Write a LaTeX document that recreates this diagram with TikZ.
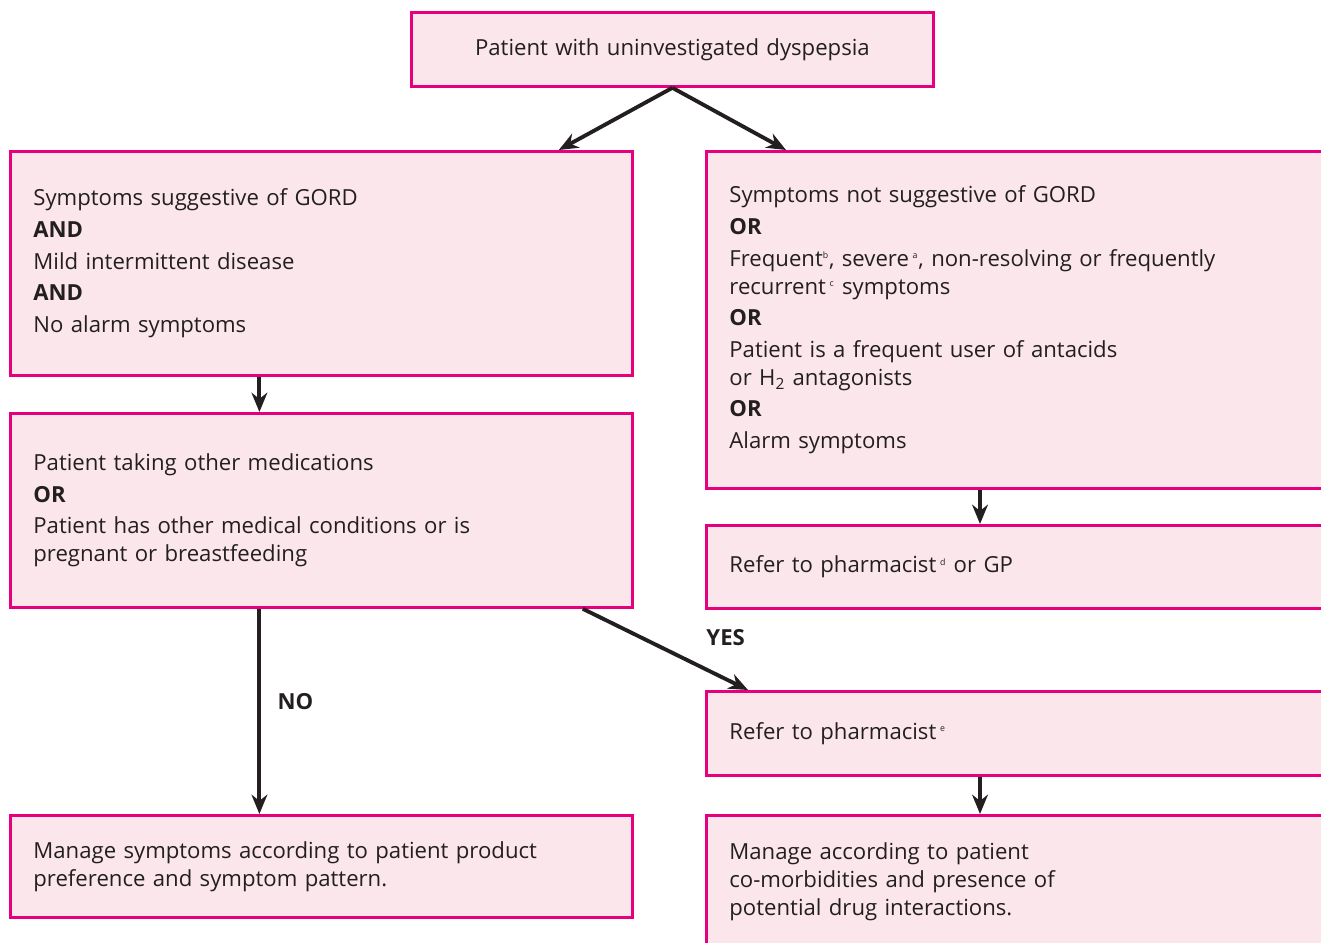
\documentclass[tikz,border=0pt]{standalone}
\usepackage{fontspec}
\setmainfont{Open Sans}
\usepackage{tikz}
\usetikzlibrary{arrows.meta, positioning, calc}

\definecolor{boxline}{HTML}{E6007E}
\definecolor{boxfill}{HTML}{FAE6EB}
\definecolor{ink}{HTML}{231F20}

\newcommand{\fnote}[1]{\textsuperscript{\fontsize{5}{5}\selectfont #1}}

\begin{document}
\begin{tikzpicture}[
  every node/.style={font=\fontsize{12.6}{15.9}\selectfont, text=ink},
  box/.style={rectangle, draw=boxline, fill=boxfill, line width=1.6pt, inner xsep=0.46cm, inner ysep=0pt, align=left, anchor=north west},
  arrow/.style={draw=ink, line width=2.2pt, -{Stealth[length=11pt, width=9pt]}},
  label/.style={font=\fontsize{12.6}{15.9}\selectfont\bfseries},
]
  \useasboundingbox (0,0) rectangle (26.42,-18.86);
  \clip (0,0) rectangle (26.42,-18.86);

  % Start
  \node[box, align=center, text width=9.52cm, minimum height=1.48cm] (start) at (8.20,-0.22)
    {Patient with uninvestigated dyspepsia};

  % Left branch
  \node[box, text width=11.52cm, minimum height=4.48cm] (gord) at (0.18,-3.00) {
    Symptoms suggestive of GORD\\[2.1pt]
    \textbf{AND}\\[2.1pt]
    Mild intermittent disease\\[2.1pt]
    \textbf{AND}\\[2.1pt]
    No alarm symptoms
  };

  \node[box, text width=11.52cm, minimum height=3.88cm] (meds) at (0.18,-8.24) {
    Patient taking other medications\\[2.1pt]
    \textbf{OR}\\[2.1pt]
    Patient has other medical conditions or is\\
    pregnant or breastfeeding
  };

  \node[box, text width=11.52cm, minimum height=2.04cm] (manage) at (0.18,-16.28) {
    Manage symptoms according to patient product\\
    preference and symptom pattern.
  };

  % Right branch
  \node[box, text width=12.2cm, minimum height=6.74cm] (notgord) at (14.10,-3.00) {
    Symptoms not suggestive of GORD\\[2.1pt]
    \textbf{OR}\\[2.1pt]
    Frequent\fnote{b}, severe\,\fnote{a}, non-resolving or frequently\\
    recurrent\,\fnote{c} symptoms\\[2.1pt]
    \textbf{OR}\\[2.1pt]
    Patient is a frequent user of antacids\\
    or H\textsubscript{2} antagonists\\[2.1pt]
    \textbf{OR}\\[2.1pt]
    Alarm symptoms
  };

  \node[box, text width=12.2cm, minimum height=1.66cm] (referGP) at (14.10,-10.48)
    {Refer to pharmacist\,\fnote{d} or GP};

  \node[box, text width=12.2cm, minimum height=1.68cm] (referPh) at (14.10,-13.80)
    {Refer to pharmacist\,\fnote{e}};

  \node[box, text width=12.2cm, minimum height=2.64cm] (comorb) at (14.10,-16.28) {
    Manage according to patient\\
    co-morbidities and presence of\\
    potential drug interactions.
  };

  % Connectors
  \draw[arrow] (start.south) -- ($(gord.north east)+(-1.5,0)$);
  \draw[arrow] (start.south) -- ($(notgord.north west)+(1.62,0)$);
  \draw[arrow] ([xshift=-1.24cm]gord.south) -- ([xshift=-1.24cm]meds.north);
  \draw[arrow] ([xshift=5.5cm]notgord.south west) -- ([xshift=5.5cm]referGP.north west);
  \draw[arrow] ([xshift=-1.24cm]meds.south) -- node[label, pos=0.45, right=6pt] {NO} ([xshift=-1.24cm]manage.north);
  \draw[arrow] ($(meds.south east)+(-1.02,0)$) -- node[label, pos=0.55, anchor=south west, xshift=0.5cm] {YES} ($(referPh.north west)+(0.86,0)$);
  \draw[arrow] ([xshift=5.5cm]referPh.south west) -- ([xshift=5.5cm]comorb.north west);
\end{tikzpicture}
\end{document}
